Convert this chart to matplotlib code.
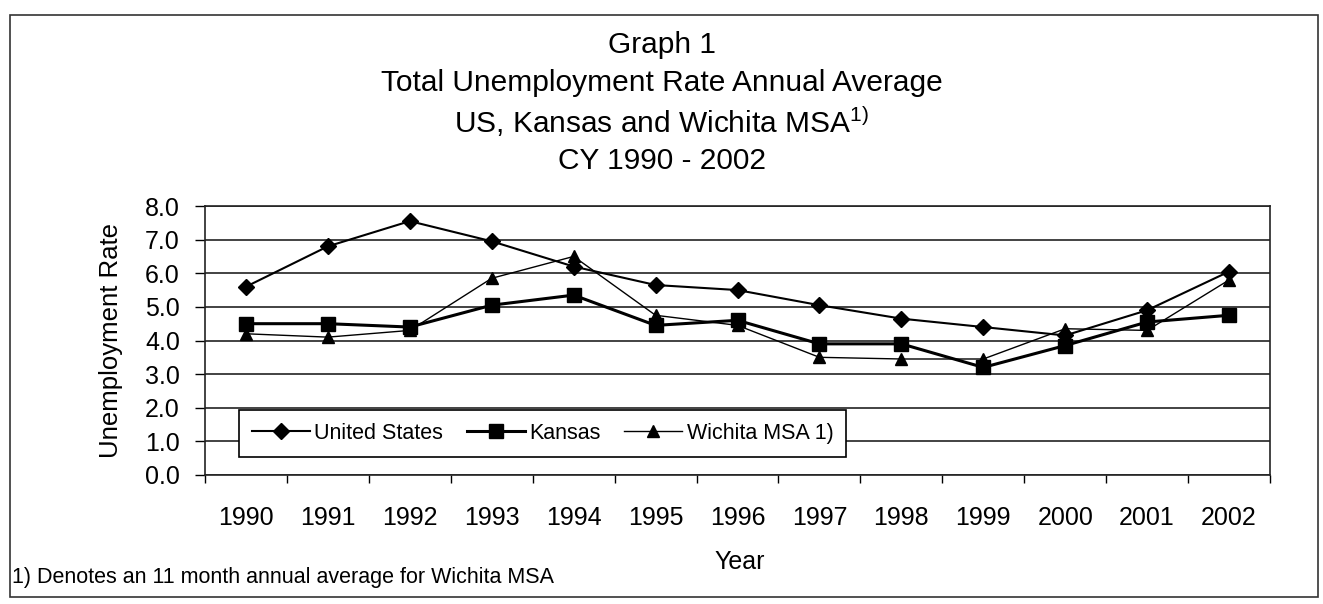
import matplotlib
matplotlib.use("Agg")
import matplotlib.pyplot as plt
import numpy as np
from matplotlib.patches import Rectangle

plt.rcParams['font.family'] = ['Liberation Sans', 'DejaVu Sans']
plt.rcParams['mathtext.fontset'] = 'custom'
plt.rcParams['mathtext.rm'] = 'Liberation Sans'
plt.rcParams['mathtext.it'] = 'Liberation Sans'

years = ['1990', '1991', '1992', '1993', '1994', '1995', '1996',
         '1997', '1998', '1999', '2000', '2001', '2002']
us = [5.6, 6.8, 7.55, 6.95, 6.2, 5.65, 5.5, 5.05, 4.65, 4.4, 4.15, 4.9, 6.05]
kansas = [4.5, 4.5, 4.4, 5.05, 5.35, 4.45, 4.6, 3.9, 3.9, 3.2, 3.85, 4.55, 4.75]
wichita = [4.2, 4.1, 4.3, 5.85, 6.5, 4.75, 4.45, 3.5, 3.45, 3.45, 4.35, 4.3, 5.8]

W, H = 1323, 604
fig = plt.figure(figsize=(W / 100, H / 100), dpi=100)
ax = fig.add_axes([205 / W, 1 - 475 / H, (1270 - 205) / W, (475 - 206) / H])

x = np.arange(len(years))
ax.plot(x, us, color='black', lw=1.5, marker='D', ms=8, label='United States', zorder=3)
ax.plot(x, kansas, color='black', lw=2.2, marker='s', ms=10, label='Kansas', zorder=3)
ax.plot(x, wichita, color='black', lw=1.0, marker='^', ms=9, label='Wichita MSA 1)', zorder=3)

ax.set_xlim(-0.5, len(years) - 0.5)
ax.set_ylim(0, 8)
ax.set_yticks(np.arange(0, 9, 1))
ax.set_yticklabels([f"{v:.1f}" for v in range(9)], fontsize=18)
ax.set_xticks(x)
ax.set_xticklabels(years, fontsize=18)
ax.set_xticks(np.arange(-0.5, len(years), 1), minor=True)
ax.tick_params(axis='x', which='major', length=0, pad=22)
ax.tick_params(axis='x', which='minor', length=6, width=1, direction='out')
ax.tick_params(axis='y', length=7, width=1, direction='out', pad=11)
ax.yaxis.grid(True, color='#222222', lw=1.2)
ax.set_axisbelow(True)
for s in ax.spines.values():
    s.set_color('#222222')
    s.set_linewidth(1.2)

ax.set_ylabel('Unemployment Rate', fontsize=18.5, labelpad=16)

# legend box placed over the lower gridlines
lx0, lx1, ly0, ly1 = 239, 846, 459, 408
leg = ax.legend(loc='center',
                bbox_to_anchor=((lx0 - 205) / 1065, (475 - ly0) / 269,
                                (lx1 - lx0) / 1065, (ly0 - ly1) / 269),
                ncol=3, fontsize=15.5, frameon=True, fancybox=False,
                handlelength=2.7, handletextpad=0.2, columnspacing=1.1,
                borderaxespad=0, borderpad=0.6)
leg.get_frame().set_edgecolor('black')
leg.get_frame().set_linewidth(1.2)
leg.get_frame().set_alpha(1)

# titles
for txt, yy in [('Graph 1', 45),
                ('Total Unemployment Rate Annual Average', 83),
                ('US, Kansas and Wichita MSA$^{1)}$', 122),
                ('CY 1990 - 2002', 161)]:
    fig.text(0.5, 1 - yy / H, txt, ha='center', va='center', fontsize=21.5)

fig.text(740 / W, 1 - 562 / H, 'Year', ha='center', va='center', fontsize=18)
fig.text(12 / W, 1 - 578 / H, '1) Denotes an 11 month annual average for Wichita MSA',
         ha='left', va='center', fontsize=15.5)

# outer frame
fig.patches.append(Rectangle((10 / W, 1 - 597 / H), (1318 - 10) / W, (597 - 15) / H,
                             transform=fig.transFigure, fill=False, edgecolor='#333333', lw=1.2))

fig.savefig('out.png', dpi=100)
